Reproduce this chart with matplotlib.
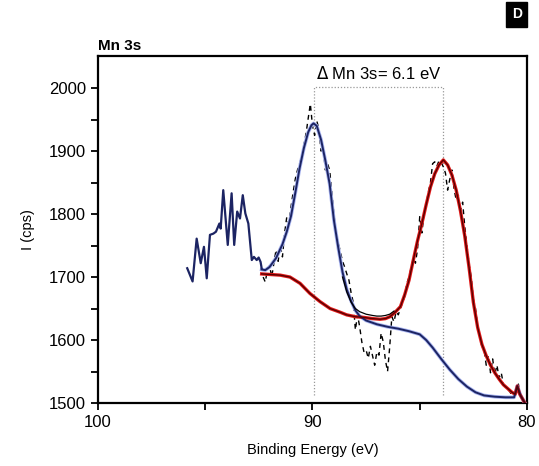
import matplotlib.pyplot as plt
import numpy as np

plt.rcParams['font.family'] = ['Liberation Sans', 'DejaVu Sans']

# survey-like noisy segment on the high binding energy side
noise_x = [95.84, 95.59, 95.40, 95.21, 95.06, 94.93, 94.78, 94.62, 94.50, 94.34, 94.28,
           94.16, 93.95, 93.77, 93.65, 93.51, 93.38, 93.25, 93.13, 92.99, 92.83, 92.73,
           92.60, 92.51, 92.42, 92.37]
noise_y = [1714, 1693, 1761, 1722, 1748, 1698, 1767, 1769, 1772, 1785, 1777,
           1838, 1751, 1833, 1751, 1804, 1793, 1830, 1801, 1785, 1727, 1732,
           1727, 1731, 1724, 1714]

# raw Mn 3s counts
raw_x = [92.3, 92.2, 92.1, 92.0, 91.9, 91.8, 91.7, 91.6, 91.5, 91.4, 91.3, 91.2, 91.1, 91.0,
         90.9, 90.8, 90.7, 90.6, 90.5, 90.4, 90.3, 90.2, 90.1, 90.0, 89.9, 89.8, 89.7, 89.6,
         89.5, 89.4, 89.3, 89.2, 89.1, 89.0, 88.9, 88.8, 88.7, 88.6, 88.5, 88.4, 88.3, 88.2,
         88.1, 88.0, 87.9, 87.8, 87.7, 87.6, 87.5, 87.4, 87.3, 87.2, 87.1, 87.0, 86.9, 86.8,
         86.7, 86.6, 86.5, 86.4, 86.3, 86.2, 86.1, 86.0, 85.9, 85.8, 85.7, 85.6, 85.5, 85.4,
         85.3, 85.2, 85.1, 85.0, 84.9, 84.8, 84.7, 84.6, 84.5, 84.4, 84.3, 84.2, 84.1, 84.0,
         83.9, 83.8, 83.7, 83.6, 83.5, 83.4, 83.3, 83.2, 83.1, 83.0, 82.9, 82.8, 82.7, 82.6,
         82.5, 82.4, 82.3, 82.2, 82.1, 82.0, 81.9, 81.8, 81.7, 81.6, 81.5, 81.4, 81.3, 81.2,
         81.1, 81.0, 80.9, 80.8, 80.7, 80.6, 80.5, 80.4, 80.3, 80.2, 80.1]
raw_y = [1700, 1692, 1712, 1718, 1700, 1722, 1743, 1725, 1750, 1732, 1770, 1795, 1785, 1812,
         1835, 1856, 1870, 1880, 1892, 1910, 1928, 1952, 1975, 1940, 1925, 1948, 1935, 1900,
         1905, 1870, 1880, 1870, 1835, 1800, 1769, 1755, 1740, 1725, 1716, 1705, 1695, 1675,
         1660, 1616, 1640, 1621, 1597, 1581, 1584, 1571, 1590, 1575, 1560, 1581, 1576, 1611,
         1597, 1568, 1550, 1589, 1637, 1629, 1645, 1640, 1650, 1660, 1669, 1690, 1700, 1715,
         1730, 1722, 1745, 1796, 1770, 1800, 1815, 1835, 1850, 1880, 1883, 1876, 1885, 1882,
         1875, 1865, 1838, 1855, 1870, 1840, 1822, 1830, 1805, 1819, 1780, 1750, 1720, 1700,
         1665, 1650, 1622, 1605, 1590, 1585, 1560, 1575, 1548, 1570, 1545, 1560, 1540, 1548,
         1530, 1525, 1522, 1518, 1512, 1515, 1522, 1530, 1510, 1505, 1500]

# component 1 (high BE peak) with its background
fit1_x = [92.37, 92.2, 92.0, 91.7, 91.4, 91.2, 91.0, 90.8, 90.6, 90.4, 90.2, 90.05, 89.95,
          89.8, 89.6, 89.4, 89.2, 89.0, 88.8, 88.6, 88.4, 88.2, 88.0, 87.8, 87.5, 87.0, 86.5,
          86.0, 85.5, 85.0, 84.7, 84.4, 84.0, 83.6, 83.2, 82.8, 82.4, 82.0, 81.5, 81.0, 80.6,
          80.45, 80.3, 80.1]
fit1_y = [1712, 1711, 1716, 1730, 1752, 1772, 1797, 1834, 1873, 1905, 1930, 1941, 1944,
          1940, 1918, 1885, 1848, 1790, 1747, 1708, 1680, 1662, 1647, 1638, 1631, 1625, 1621,
          1618, 1614, 1609, 1600, 1588, 1570, 1553, 1538, 1526, 1517, 1512, 1510, 1509, 1509,
          1527, 1512, 1500]

# component 2 (low BE peak) with its background
fit2_x = [92.37, 91.5, 91.05, 90.58, 90.12, 89.65, 89.18, 88.7, 88.41, 88.0, 87.63, 87.2,
          86.85, 86.6, 86.39, 86.15, 85.9, 85.7, 85.5, 85.3, 85.1, 84.9, 84.7, 84.5, 84.3,
          84.1, 83.9, 83.7, 83.5, 83.3, 83.1, 82.9, 82.7, 82.5, 82.3, 82.1, 81.9, 81.7, 81.5,
          81.3, 81.1, 80.9, 80.7, 80.55, 80.45, 80.35, 80.1]
fit2_y = [1705, 1703, 1700, 1690, 1674, 1661, 1650, 1644, 1640, 1637, 1636, 1634,
          1633, 1634, 1637, 1644, 1653, 1672, 1695, 1727, 1758, 1785, 1815, 1843, 1864,
          1878, 1886, 1878, 1862, 1838, 1805, 1765, 1715, 1660, 1620, 1593, 1575, 1560, 1548,
          1538, 1529, 1523, 1517, 1514, 1527, 1515, 1500]

# summed envelope across the valley
env_x = [88.6, 88.4, 88.2, 88.0, 87.8, 87.5, 87.2, 87.0, 86.8, 86.6, 86.4, 86.2]
env_y = [1700, 1676, 1660, 1650, 1645, 1641, 1639, 1638, 1638, 1639, 1641, 1646]

peak1, peak2 = 89.95, 83.9
split_label = '$\\Delta$ Mn 3s= 6.1 eV'

fig = plt.figure(figsize=(5.39, 4.66), dpi=100)
ax = fig.add_axes([0.1818, 0.1352, 0.7959, 0.7446])

# splitting marker
ax.plot([peak1, peak1, peak2, peak2], [1512, 2002, 2002, 1512],
        color='#999999', lw=0.9, ls=(0, (1, 1.5)), zorder=1)
ax.text((peak1 + peak2) / 2, 2010, split_label, ha='center', va='bottom', fontsize=12)

ax.plot(raw_x, raw_y, color='black', lw=1.0, ls=(0, (3.5, 3)), zorder=2)

ax.plot(fit1_x, fit1_y, color='#a8b4f0', lw=2.6, zorder=3)
ax.plot(fit1_x, fit1_y, color='#1c2463', lw=1.4, zorder=4)

ax.plot(fit2_x, fit2_y, color='#e01818', lw=2.4, zorder=3)
ax.plot(fit2_x, fit2_y, color='#5a0000', lw=1.0, zorder=4)

ax.plot(env_x, env_y, color='black', lw=0.9, zorder=4)

ax.plot(noise_x, noise_y, color='#1c2463', lw=1.6, zorder=5)

ax.set_xlim(100, 80)
ax.set_ylim(1500, 2051)
ax.set_xticks([100, 90, 80])
ax.set_xticks([95, 85], minor=True)
ax.set_yticks(np.arange(1500, 2001, 100))
ax.set_yticks(np.arange(1550, 2001, 100), minor=True)
ax.tick_params(which='both', direction='out', length=5, width=1.3, labelsize=12)
ax.tick_params(axis='x', pad=4)
for s in ax.spines.values():
    s.set_linewidth(1.6)

ax.set_xlabel('Binding Energy (eV)', fontsize=10.5, labelpad=9)
ax.set_ylabel('I (cps)', fontsize=10.5, labelpad=10)
ax.text(0.0, 1.008, 'Mn 3s', transform=ax.transAxes, fontsize=11,
        fontweight='bold', ha='left', va='bottom')

fig.text(0.959, 0.969, 'D', color='white', fontsize=10, fontweight='bold',
         ha='center', va='center',
         bbox=dict(boxstyle='square,pad=0.4', fc='black', ec='black'))

fig.savefig('out.png', dpi=100)
